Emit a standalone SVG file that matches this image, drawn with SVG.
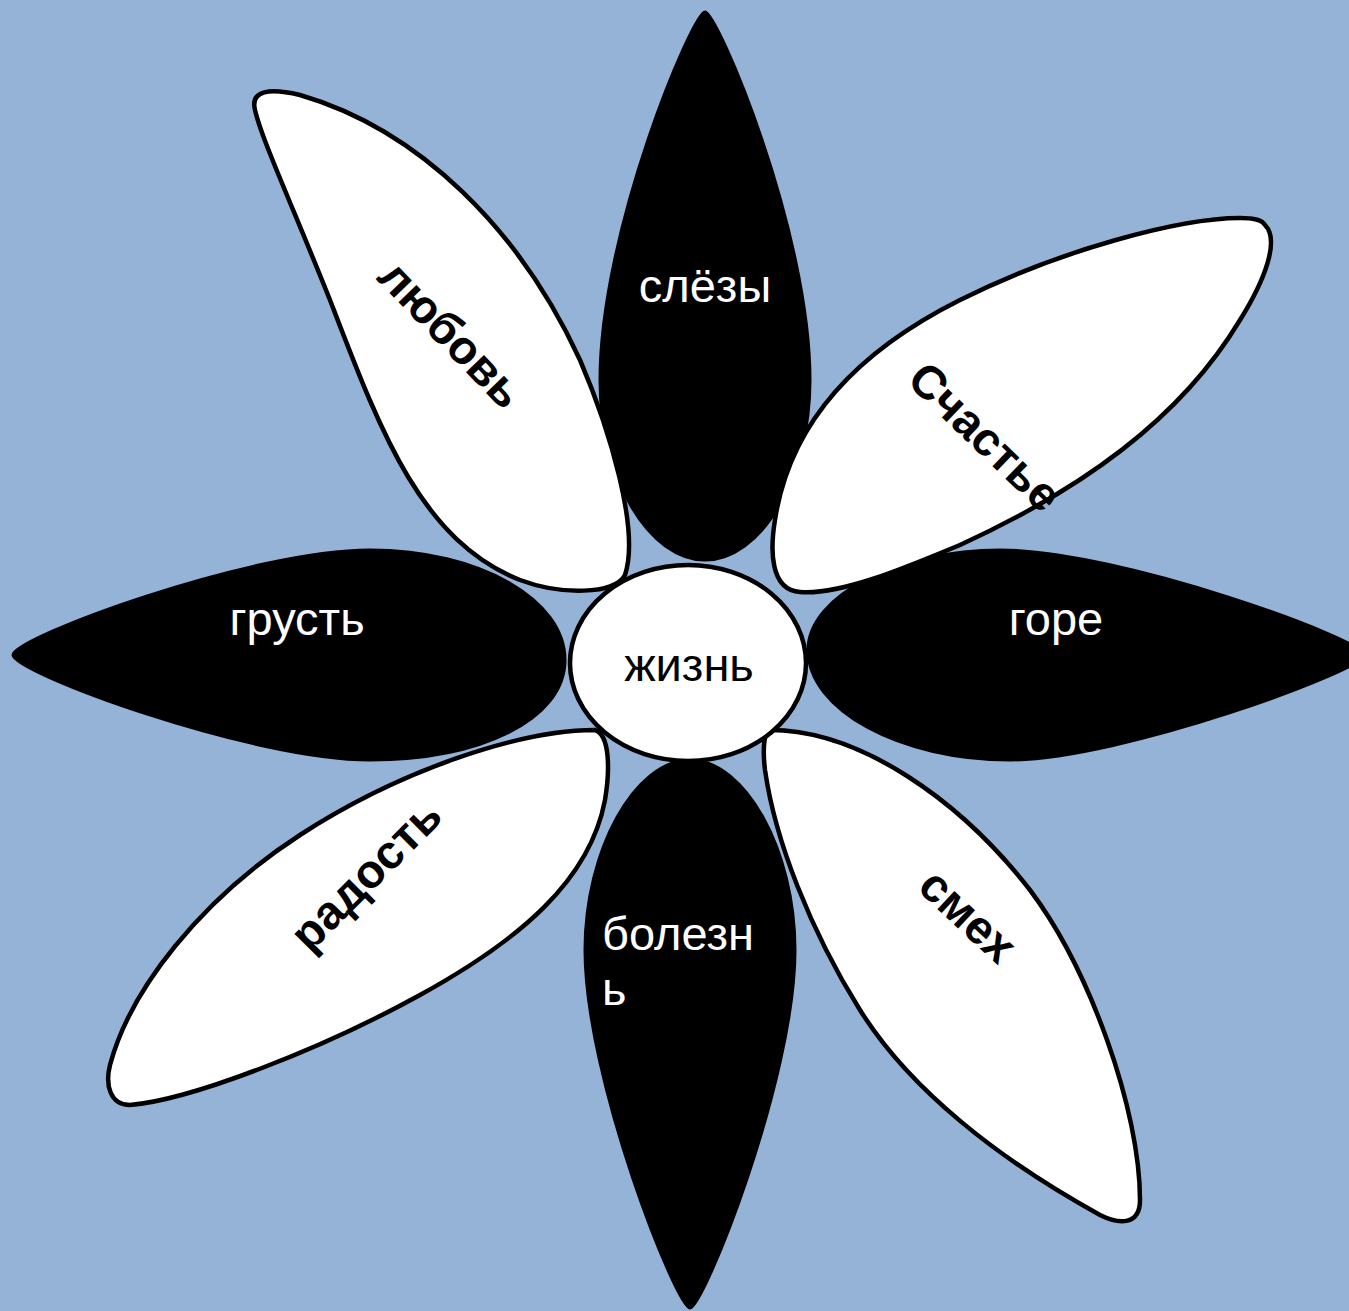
<svg xmlns="http://www.w3.org/2000/svg" width="1349" height="1311" viewBox="0 0 1349 1311">
<style>
.blk{fill:#000;stroke:#000;stroke-width:3}
.wht{fill:#fff;stroke:#000;stroke-width:4.5;stroke-linejoin:round}
.tw{font-family:"Liberation Sans",Arial,sans-serif;font-size:47px;fill:#fff}
.tb{font-family:"Liberation Sans",Arial,sans-serif;font-size:47px;font-weight:bold;fill:#000;text-anchor:middle}
.tc{font-family:"Liberation Sans",Arial,sans-serif;font-size:47px;fill:#000;text-anchor:middle}
</style>
<rect width="1349" height="1311" fill="#95B3D7"/>
<g id="petal-slezy">
<path class="blk" d="M705,12 C693,12 600,230 600,380 C600,480 650,560 705,560 C760,560 810,480 810,380 C810,230 717,12 705,12 Z"/>
<text class="tw" x="705" y="302" text-anchor="middle">слёзы</text>
</g>
<g id="petal-bolezn">
<path class="blk" d="M690,760 C745,760 795,850 795,950 C795,1080 703,1308 690,1308 C677,1308 585,1080 585,950 C585,850 635,760 690,760 Z"/>
<text class="tw" x="602" y="950">болезн</text>
<text class="tw" x="602" y="1005">ь</text>
</g>
<g id="petal-grust">
<path class="blk" d="M13,655 C13,638 250,550 370,550 C480,550 565,600 565,660 C565,720 480,760 370,760 C250,760 13,672 13,655 Z"/>
<text class="tw" x="297" y="635" text-anchor="middle">грусть</text>
</g>
<g id="petal-gore">
<path class="blk" d="M808,650 C808,595 900,550 1000,550 C1120,550 1365,640 1365,655 C1365,670 1120,760 1010,760 C900,760 808,710 808,650 Z"/>
<text class="tw" x="1056" y="635" text-anchor="middle">горе</text>
</g>
<g id="petal-lyubov">
<path class="wht" d="M255,110 C250,90 270,88 300,95 C420,130 520,230 580,360 C610,430 640,530 625,575 C615,595 560,595 520,580 C420,540 380,430 330,300 C290,200 262,140 255,110 Z"/>
<text class="tb" transform="translate(449,336) rotate(46)" y="13">любовь</text>
</g>
<g id="petal-schastye">
<path class="wht" d="M1265,225 C1280,240 1265,280 1240,320 C1180,420 1080,490 960,545 C900,570 840,595 800,592 C770,590 770,550 775,520 C790,420 860,350 960,300 C1060,250 1180,218 1240,218 C1255,218 1262,220 1265,225 Z"/>
<text class="tb" transform="translate(983,439) rotate(44)" y="13">Счастье</text>
</g>
<g id="petal-radost">
<path class="wht" d="M595,730 C610,735 610,770 605,800 C590,880 520,940 420,995 C320,1050 190,1100 130,1105 C110,1105 105,1085 110,1065 C130,990 200,900 300,835 C400,770 520,730 595,730 Z"/>
<text class="tb" transform="translate(368,877) rotate(-45)" y="13">радость</text>
</g>
<g id="petal-smekh">
<path class="wht" d="M770,730 C860,730 960,800 1030,890 C1090,970 1140,1110 1140,1200 C1140,1225 1120,1225 1100,1215 C1000,1160 910,1090 860,1010 C810,930 775,840 765,770 C762,745 765,730 770,730 Z"/>
<text class="tb" transform="translate(966,918) rotate(43)" y="13">смех</text>
</g>
<g id="center">
<ellipse cx="688" cy="663" rx="118" ry="98" fill="#fff" stroke="#000" stroke-width="4.5"/>
<text class="tc" x="689" y="681">жизнь</text>
</g>
<g id="connectors"/>
</svg>
